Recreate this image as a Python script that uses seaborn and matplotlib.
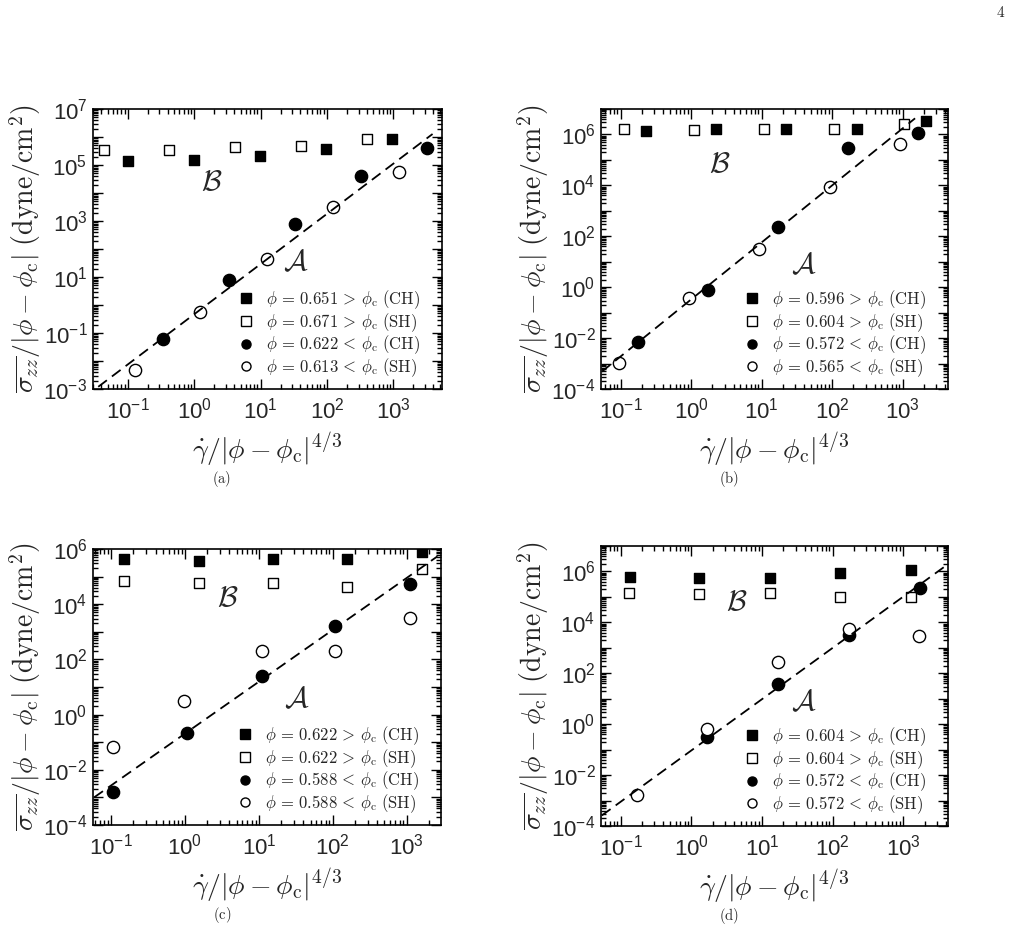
import matplotlib
matplotlib.use("Agg")
import matplotlib.pyplot as plt
from matplotlib.lines import Line2D
from matplotlib.ticker import LogLocator, FuncFormatter, NullFormatter
import numpy as np
import pandas as pd
import seaborn as sns

# ---- panel (a) ----
a_sqf_x = [0.1, 1.0, 9.7, 97, 960]
a_sqf_y = [1.4e5, 1.5e5, 2.1e5, 3.6e5, 8.3e5]
a_sqo_x = [0.044, 0.42, 4.2, 41, 400]
a_sqo_y = [3.4e5, 3.4e5, 4.3e5, 4.9e5, 8.3e5]
a_cif_x = [0.34, 3.4, 33, 325, 3250]
a_cif_y = [0.063, 7.8, 780, 3.9e4, 4.0e5]
a_cio_x = [0.127, 1.23, 12.4, 122, 1200]
a_cio_y = [0.0048, 0.55, 44, 3250, 5.5e4]
a_line_x = [0.036, 3900]
a_line_y = [1.2e-3, 1.28e6]
a_phi = ["0.651", "0.671", "0.622", "0.613"]

# ---- panel (b) ----
b_sqf_x = [0.226, 2.25, 22, 223, 2140]
b_sqf_y = [1.4e6, 1.7e6, 1.7e6, 1.6e6, 3.3e6]
b_sqo_x = [0.111, 1.1, 10.8, 106, 1057]
b_sqo_y = [1.67e6, 1.48e6, 1.7e6, 1.6e6, 2.5e6]
b_cif_x = [0.174, 1.71, 16.9, 166, 1634]
b_cif_y = [0.0072, 0.77, 223, 3.0e5, 1.1e6]
b_cio_x = [0.095, 0.94, 9.2, 93, 916]
b_cio_y = [0.0011, 0.36, 31, 8300, 4.4e5]
b_line_x = [0.054, 1500]
b_line_y = [4.8e-4, 4.3e6]
b_phi = ["0.596", "0.604", "0.572", "0.565"]

# ---- panel (c) ----
c_sqf_x = [0.151, 1.53, 15.4, 155, 1600]
c_sqf_y = [4.3e5, 3.6e5, 4.3e5, 4.3e5, 8.0e5]
c_sqo_x = [0.151, 1.53, 15.4, 155, 1600]
c_sqo_y = [7.1e4, 6.0e4, 6.0e4, 4.1e4, 1.95e5]
c_cif_x = [0.105, 1.06, 10.9, 107, 1110]
c_cif_y = [0.0016, 0.21, 24, 1620, 5.6e4]
c_cio_x = [0.107, 0.98, 10.9, 107, 1090]
c_cio_y = [0.067, 3.1, 195, 195, 3100]
c_line_x = [0.059, 2600]
c_line_y = [1.0e-3, 5.4e5]
c_phi = ["0.622", "0.622", "0.588", "0.588"]

# ---- panel (d) ----
d_sqf_x = [0.136, 1.28, 13, 127, 1280]
d_sqf_y = [5.8e5, 5.3e5, 5.3e5, 9.1e5, 1.1e6]
d_sqo_x = [0.131, 1.28, 13, 127, 1280]
d_sqo_y = [1.45e5, 1.36e5, 1.45e5, 9.5e4, 9.5e4]
d_cif_x = [1.68, 17, 172, 1720]
d_cif_y = [0.32, 37, 3200, 2.3e5]
d_cio_x = [0.168, 1.68, 17, 172, 1680]
d_cio_y = [0.0016, 0.66, 270, 5500, 2800]
d_line_x = [0.054, 3900]
d_line_y = [2.6e-4, 1.6e6]
d_phi = ["0.604", "0.604", "0.572", "0.572"]

sns.set_theme(style="ticks")
plt.rcParams["font.family"] = ["Liberation Sans", "DejaVu Sans"]
plt.rcParams["mathtext.fontset"] = "cm"

fig = plt.figure(figsize=(10.24, 9.3), dpi=100)

panels = [
    dict(rect=[0.0908, 0.5817, 0.3408, 0.3011], xlim=(0.030, 5400), ylim=(1e-3, 1e7),
         ylab=[-3, -1, 1, 3, 5, 7],
         sqf=(a_sqf_x, a_sqf_y), sqo=(a_sqo_x, a_sqo_y), cif=(a_cif_x, a_cif_y), cio=(a_cio_x, a_cio_y),
         line=(a_line_x, a_line_y), phi=a_phi, B=(1.84, 2.4e4), A=(34, 33), cap="a"),
    dict(rect=[0.5869, 0.5817, 0.3389, 0.3011], xlim=(0.0526, 4400), ylim=(1e-4, 1e7),
         ylab=[-4, -2, 0, 2, 4, 6],
         sqf=(b_sqf_x, b_sqf_y), sqo=(b_sqo_x, b_sqo_y), cif=(b_cif_x, b_cif_y), cio=(b_cio_x, b_cio_y),
         line=(b_line_x, b_line_y), phi=b_phi, B=(2.56, 6.8e4), A=(40, 7.4), cap="b"),
    dict(rect=[0.0908, 0.1129, 0.3398, 0.2968], xlim=(0.057, 2900), ylim=(1e-4, 1e6),
         ylab=[-4, -2, 0, 2, 4, 6],
         sqf=(c_sqf_x, c_sqf_y), sqo=(c_sqo_x, c_sqo_y), cif=(c_cif_x, c_cif_y), cio=(c_cio_x, c_cio_y),
         line=(c_line_x, c_line_y), phi=c_phi, B=(3.8, 1.7e4), A=(32, 3.6), cap="c"),
    dict(rect=[0.5869, 0.1118, 0.3389, 0.3011], xlim=(0.0526, 4290), ylim=(1e-4, 1e7),
         ylab=[-4, -2, 0, 2, 4, 6],
         sqf=(d_sqf_x, d_sqf_y), sqo=(d_sqo_x, d_sqo_y), cif=(d_cif_x, d_cif_y), cio=(d_cio_x, d_cio_y),
         line=(d_line_x, d_line_y), phi=d_phi, B=(4.4, 6.6e4), A=(39, 7.6), cap="d"),
]


def decade_formatter(labeled):
    def f(v, pos):
        e = int(round(np.log10(v)))
        if labeled is None or e in labeled:
            return r"$\mathdefault{10^{%d}}$" % e
        return ""
    return FuncFormatter(f)


styles = [
    ("sqf", "s", "black", "CH", ">"),
    ("sqo", "s", "white", "SH", ">"),
    ("cif", "o", "black", "CH", "<"),
    ("cio", "o", "white", "SH", "<"),
]

for p in panels:
    ax = fig.add_axes(p["rect"])
    handles = []
    for idx, (key, marker, face, kind, rel) in enumerate(styles):
        xs, ys = p[key]
        df = pd.DataFrame({"x": xs, "y": ys})
        size = 62 if marker == "s" else 78
        sns.scatterplot(data=df, x="x", y="y", ax=ax, marker=marker, s=size,
                        facecolor=face, edgecolor="black", linewidth=1.0, zorder=3)
        lab = r"$\phi \,=\, %s \,%s\, \phi_{\rm c}\ ({\rm %s})$" % (p["phi"][idx], rel, kind)
        handles.append(Line2D([], [], linestyle="none", marker=marker, markersize=6.5,
                              markerfacecolor=face, markeredgecolor="black",
                              markeredgewidth=1.0, label=lab))
    lx, ly = p["line"]
    sns.lineplot(x=lx, y=ly, ax=ax, color="black", lw=1.3, linestyle=(0, (6, 3.5)), zorder=4)

    ax.set_xscale("log")
    ax.set_yscale("log")
    ax.set_xlim(*p["xlim"])
    ax.set_ylim(*p["ylim"])

    ax.xaxis.set_major_locator(LogLocator(base=10, numticks=30))
    ax.yaxis.set_major_locator(LogLocator(base=10, numticks=30))
    ax.xaxis.set_minor_locator(LogLocator(base=10, subs=np.arange(2, 10), numticks=30))
    ax.yaxis.set_minor_locator(LogLocator(base=10, subs=np.arange(2, 10), numticks=30))
    ax.xaxis.set_major_formatter(decade_formatter(None))
    ax.yaxis.set_major_formatter(decade_formatter(p["ylab"]))
    ax.xaxis.set_minor_formatter(NullFormatter())
    ax.yaxis.set_minor_formatter(NullFormatter())
    ax.tick_params(which="both", direction="in", top=True, right=True, color="black", width=1.0)
    ax.tick_params(which="major", length=7, labelsize=16, pad=4)
    ax.tick_params(axis="x", which="major", pad=6)
    ax.tick_params(which="minor", length=3.5)
    for sp in ax.spines.values():
        sp.set_linewidth(1.2)
        sp.set_color("black")

    ax.set_xlabel(r"$\dot{\gamma}/|\phi - \phi_{\rm c}|^{4/3}$", fontsize=20, labelpad=5)
    ax.set_ylabel(r"$\overline{\sigma_{zz}}/|\phi - \phi_{\rm c}|\ ({\rm dyne/cm^2})$",
                  fontsize=20, labelpad=0)

    ax.text(p["B"][0], p["B"][1], r"$\mathcal{B}$", fontsize=21, ha="center", va="center")
    ax.text(p["A"][0], p["A"][1], r"$\mathcal{A}$", fontsize=21, ha="center", va="center")

    ax.legend(handles=handles, loc="lower right", bbox_to_anchor=(0.965, 0.0),
              frameon=False, fontsize=12,
              handlelength=1.0, handletextpad=0.7, labelspacing=0.0,
              borderaxespad=0.3, borderpad=0.3)

    x0 = p["rect"][0] + p["rect"][2] * 0.37
    y0 = p["rect"][1] - 0.097
    fig.text(x0, y0, r"$({\rm %s})$" % p["cap"], fontsize=10.5, ha="center", va="center")

fig.text(0.977, 0.987, r"$4$", fontsize=11, ha="center", va="center")

fig.savefig("out.png", dpi=100)
